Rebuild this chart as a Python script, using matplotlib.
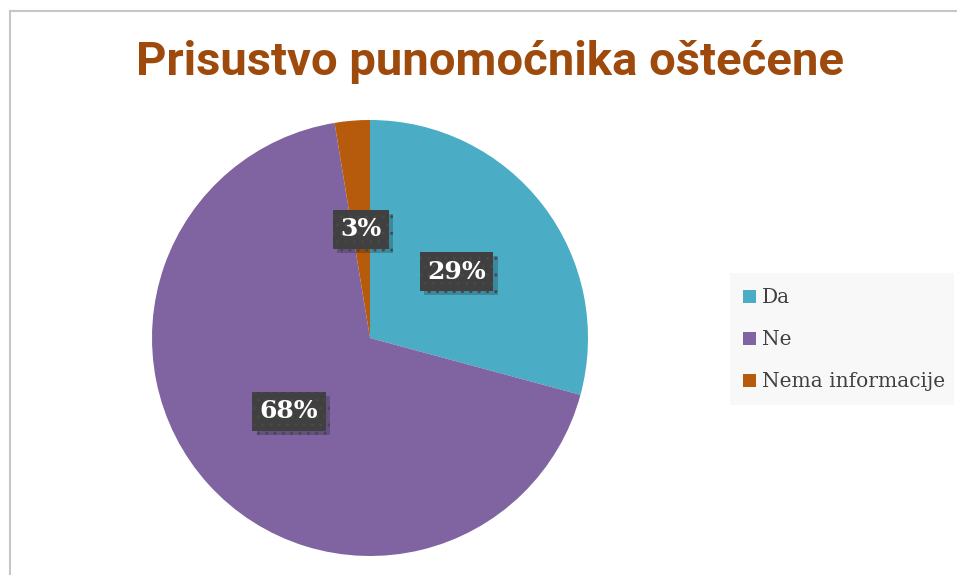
import matplotlib
matplotlib.use("Agg")
import matplotlib.pyplot as plt
import matplotlib.patheffects as pe
from matplotlib.lines import Line2D
from matplotlib.patches import Rectangle

title = "Prisustvo punomoćnika oštećene"
categories = ["Da", "Ne", "Nema informacije"]
shares = [29.2, 68.2, 2.6]
colors = ["#4BACC6", "#8064A2", "#B65A0C"]

W, H = 957, 575
fig = plt.figure(figsize=(W / 100, H / 100), dpi=100)
fig.patch.set_facecolor("white")

# outer chart border (top and left visible)
fig.add_artist(Line2D([9.5 / W, 9.5 / W], [0, 1 - 10.5 / H], transform=fig.transFigure,
                      color="#C6C6C6", lw=1.5))
fig.add_artist(Line2D([9.5 / W, 1.01], [1 - 10.5 / H, 1 - 10.5 / H], transform=fig.transFigure,
                      color="#C6C6C6", lw=1.5))

fig.text(490 / W, 1 - 62 / H, title, ha="center", va="center",
         fontsize=34, fontweight="bold", family="Roboto", color="#9E4A0C")

ax = fig.add_axes([152 / W, (H - 556) / H, 436 / W, 436 / H])
wedges, texts, autotexts = ax.pie(
    shares, colors=colors, startangle=90, counterclock=False,
    autopct=lambda p: f"{int(p + 0.5)}%", pctdistance=0.5, radius=1.0,
    wedgeprops=dict(linewidth=0),
    textprops=dict(color="white", fontsize=18, fontweight="bold", family="DejaVu Serif"))
ax.set_xlim(-1, 1)
ax.set_ylim(-1, 1)
ax.axis("off")

for t in autotexts:
    t.set_bbox(dict(boxstyle="square,pad=0.3", facecolor="#404040", edgecolor="#484848",
                    hatch="..", linewidth=0))
    bp = t.get_bbox_patch()
    bp.set_path_effects([pe.SimplePatchShadow(offset=(3, -3), shadow_rgbFace="black", alpha=0.2),
                         pe.Normal()])

# legend background
fig.add_artist(Rectangle((730 / W, 1 - 405 / H), 224 / W, 132 / H, transform=fig.transFigure,
                         facecolor="#F8F8F8", edgecolor="none", zorder=0))
leg = fig.legend(wedges, categories, loc="upper left",
                 bbox_to_anchor=(725 / W, 1 - 270 / H),
                 frameon=False, handlelength=0.62, handleheight=0.62, handletextpad=0.3,
                 labelspacing=1.15, borderpad=0.4,
                 prop=dict(family="DejaVu Serif", size=14.5))
for txt in leg.get_texts():
    txt.set_color("#404040")

fig.savefig("out.png", dpi=100)
